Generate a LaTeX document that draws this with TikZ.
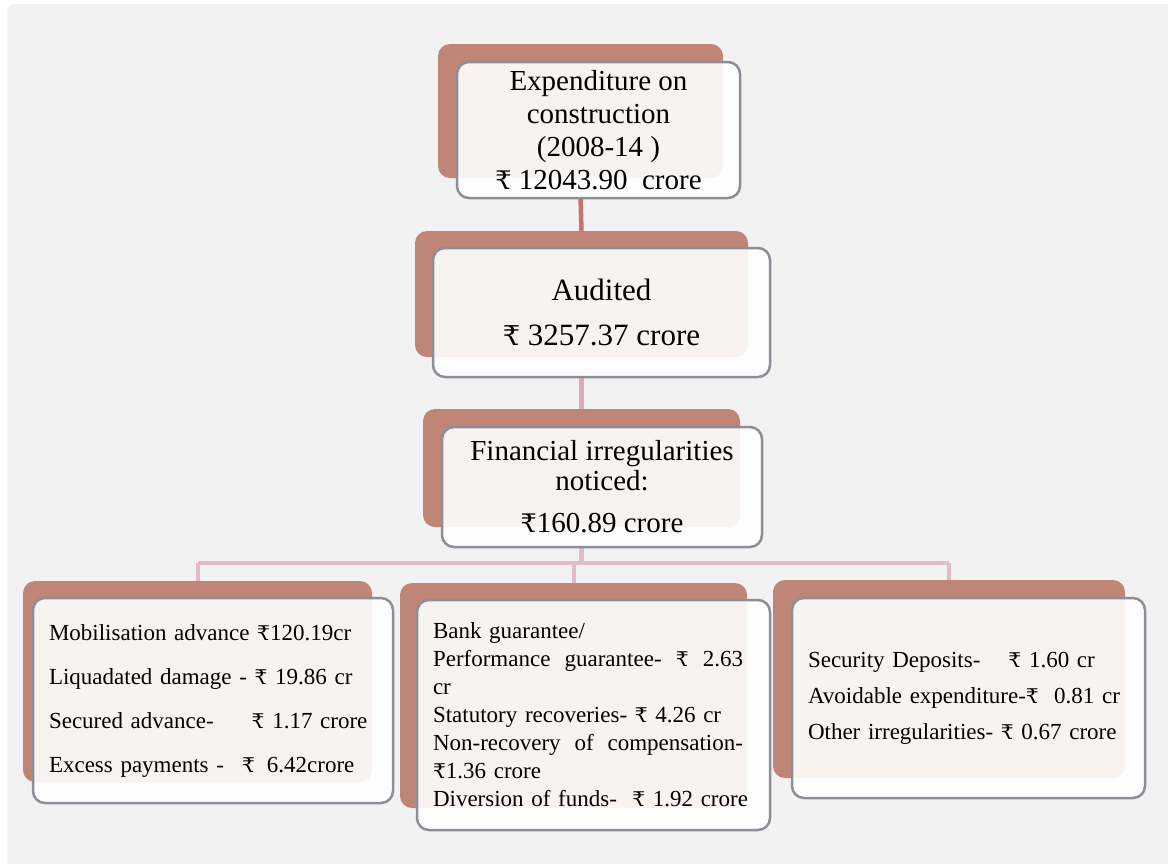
\documentclass[tikz,border=0pt]{standalone}
\usepackage{fontspec}
\setmainfont{Liberation Serif}
\newfontfamily\rupfont[Scale=0.88]{DejaVu Serif}
\newcommand{\rs}{{\rupfont ₹}}
\newcommand{\jline}[1]{\leavevmode\hbox to 310pt{#1}}
\usetikzlibrary{positioning,calc}
\definecolor{bggray}{HTML}{F2F2F2}
\definecolor{shadowc}{HTML}{BF8677}
\definecolor{boxline}{HTML}{8E8E98}
\definecolor{conA}{HTML}{C87272}
\definecolor{conB}{HTML}{DDAAB8}
\definecolor{conC}{HTML}{E2BCCB}
\tikzset{
  shadowbox/.style={fill=shadowc, draw=none, rounded corners=12pt, inner sep=0pt},
  frontbox/.style={fill=white, fill opacity=0.9, text opacity=1, draw=boxline, draw opacity=1,
     line width=2.5pt, rounded corners=12pt, inner sep=0pt},
  conn/.style={line width=4.5pt},
}
\begin{document}
\begin{tikzpicture}[x=1pt,y=-1pt]
\useasboundingbox (0,0) rectangle (1168,863);
\fill[white] (0,0) rectangle (1168,863);
\fill[bggray, rounded corners=8pt] (7,4) rectangle (1175,870);

% shadows
\node[shadowbox, minimum width=285pt, minimum height=134pt] (s1) at (580.5,111) {};
\node[shadowbox, minimum width=333pt, minimum height=126pt] (s2) at (581.5,294) {};
\node[shadowbox, minimum width=317pt, minimum height=118pt] (s3) at (581.5,468) {};
\node[shadowbox, minimum width=349pt, minimum height=201pt] (s4) at (197.5,681.5) {};
\node[shadowbox, minimum width=347pt, minimum height=225pt] (s5) at (573.5,695.5) {};
\node[shadowbox, minimum width=352pt, minimum height=198pt] (s6) at (949,679) {};

% connectors
\draw[conn, conA] (s1.center |- 0,197) coordinate (c1) -- (s2.north);
\draw[conn, conB] (s2.center |- 0,377) coordinate (c2) -- (s3.north);
\coordinate (bus) at (581.5,563);
\draw[conn, conC] (s3.center |- 0,547) -- (bus);
\draw[conn, conC, line width=4pt] (s4.north |- bus) -- (s6.north |- bus);
\draw[conn, conC, line width=4pt] (s4.north |- bus) -- (s4.north);
\draw[conn, conC, line width=4pt] (s5.north |- bus) -- (s5.north);
\draw[conn, conC, line width=4pt] (s6.north |- bus) -- (s6.north);

% front boxes
\node[frontbox, minimum width=283pt, minimum height=136pt, align=center,
      font=\fontsize{29}{33}\selectfont] (b1) at (598.5,130)
  {Expenditure on\\construction\\(2008-14 )\\\rs\ 12043.90\ \ crore};
\node[frontbox, minimum width=337pt, minimum height=129pt, align=center,
      font=\fontsize{31}{45}\selectfont] (b2) at (601.5,312.5)
  {Audited\\\rs\ 3257.37 crore};
\node[frontbox, minimum width=320pt, minimum height=120pt, align=center,
      font=\fontsize{29}{30}\selectfont] (b3) at (602,487)
  {Financial irregularities\\noticed:\\[12pt]\rs160.89 crore};

\node[frontbox, minimum width=360pt, minimum height=205pt, inner xsep=16pt,
      text width=328pt, align=left, font=\fontsize{23}{44}\selectfont] (b4) at (213,700.5)
  {Mobilisation advance \rs120.19cr\\
   Liquadated damage - \rs\ 19.86 cr\\
   Secured advance-\hspace{38pt}\rs\ 1.17 crore\\
   Excess payments -\hspace{18pt}\rs\hspace{12pt}6.42crore};
\node[frontbox, minimum width=353pt, minimum height=230pt, inner xsep=16pt,
      text width=321pt, align=left, font=\fontsize{23}{28}\selectfont] (b5) at (593.5,715)
  {Bank guarantee/\\
   \jline{Performance\hfill guarantee-\hfill \rs\hfill 2.63}\\
   cr\\
   Statutory recoveries- \rs\ 4.26 cr\\
   \jline{Non-recovery\hfill of\hfill compensation-}\\
   \rs1.36 crore\\
   Diversion of funds-\ \ \rs\ 1.92 crore};
\node[frontbox, minimum width=353pt, minimum height=200pt, inner xsep=16pt,
      text width=321pt, align=left, font=\fontsize{23}{36}\selectfont] (b6) at (968.5,698)
  {Security Deposits-\hspace{28pt}\rs\ 1.60 cr\\
   Avoidable expenditure-\rs\ \ 0.81 cr\\
   Other irregularities- \rs\ 0.67 crore};
\end{tikzpicture}
\end{document}
